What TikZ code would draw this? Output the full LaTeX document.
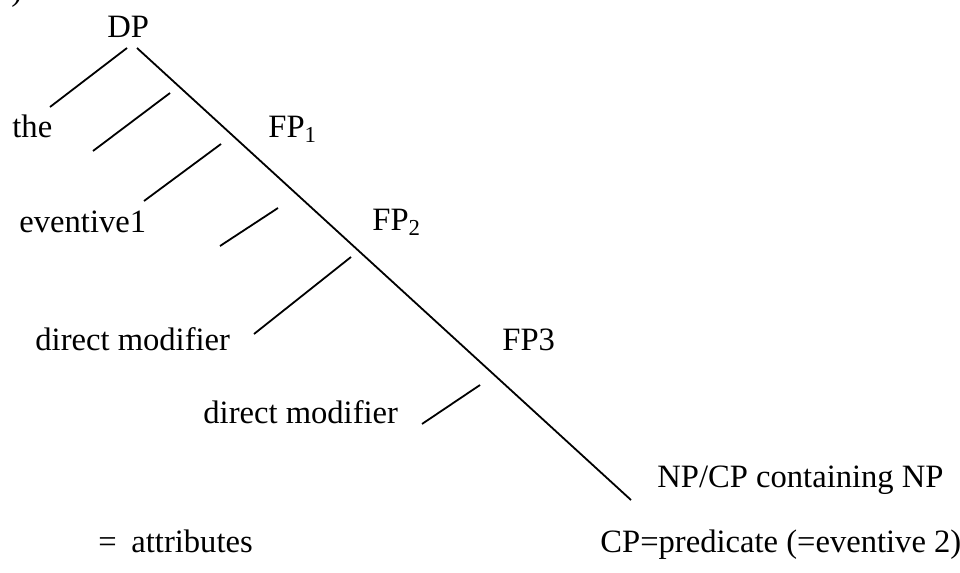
\documentclass[tikz,border=0pt]{standalone}
\usepackage{fontspec}
\setmainfont{Liberation Serif}

\begin{document}
\begin{tikzpicture}[
  x=0.5pt, y=-0.5pt,
  lbl/.style={anchor=base west, inner sep=0, font=\fontsize{16.3}{19}\selectfont},
  br/.style={line width=0.9pt}
]
\useasboundingbox (0,0) rectangle (960,573);

% labels
\node[lbl] (num) at (11,1) {)};
\node[lbl] (dp) at (107,38) {DP};
\node[lbl] (the) at (12,137) {the};
\node[lbl] (fp1) at (268,137) {FP\textsubscript{1}};
\node[lbl] (ev1) at (19,232) {eventive1};
\node[lbl] (fp2) at (372,230) {FP\textsubscript{2}};
\node[lbl] (dm1) at (35,350) {direct modifier};
\node[lbl] (fp3) at (502,350) {FP3};
\node[lbl] (dm2) at (203,423) {direct modifier};
\node[lbl] (np) at (657,487) {NP/CP containing NP};
\node[lbl] (attr) at (98,552) {=\hspace{0.45em}attributes};
\node[lbl] (pred) at (600,552) {CP=predicate (=eventive 2)};

% branch ends
\coordinate (dp-l) at (127,48);
\coordinate (dp-r) at (137,48);
\coordinate (the-r) at (50,107);
\coordinate (np-l) at (631,500);

% attribute strokes
\coordinate (a1-t) at (170,93);  \coordinate (a1-b) at (93,151);
\coordinate (a2-t) at (221,144); \coordinate (a2-b) at (144,201);
\coordinate (a3-t) at (278,208); \coordinate (a3-b) at (220,246);
\coordinate (a4-t) at (351,257); \coordinate (a4-b) at (254,334);
\coordinate (a5-t) at (480,385); \coordinate (a5-b) at (422,424);

\draw[br] (dp-l) -- (the-r);
\draw[br] (dp-r) -- (np-l);
\draw[br] (a1-t) -- (a1-b);
\draw[br] (a2-t) -- (a2-b);
\draw[br] (a3-t) -- (a3-b);
\draw[br] (a4-t) -- (a4-b);
\draw[br] (a5-t) -- (a5-b);
\end{tikzpicture}
\end{document}
